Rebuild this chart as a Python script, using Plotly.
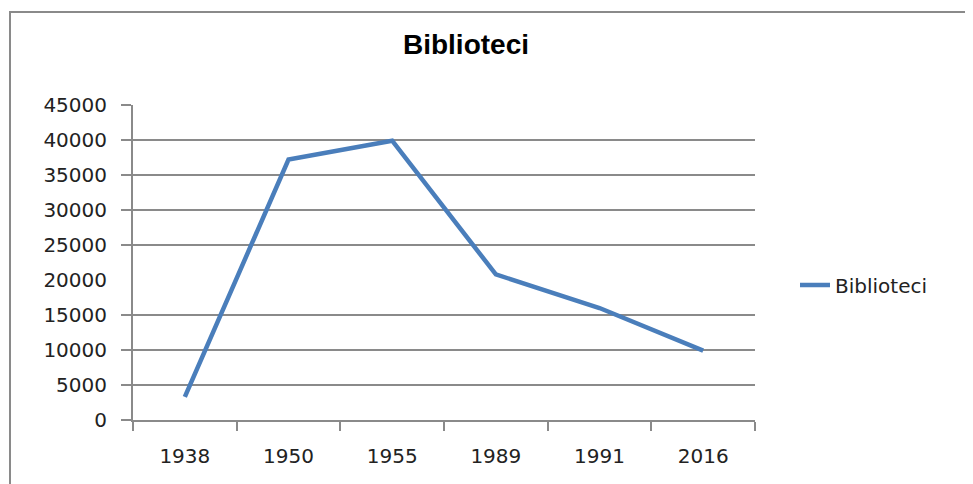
import plotly.graph_objects as go

# values
years = ["1938", "1950", "1955", "1989", "1991", "2016"]
biblioteci = [3300, 37200, 39900, 20800, 16000, 9900]

y_ticks = [0, 5000, 10000, 15000, 20000, 25000, 30000, 35000, 40000, 45000]
# the reference has no gridline / tick mark at 20000
grid_ticks = [0, 5000, 10000, 15000, 25000, 30000, 35000, 40000, 45000]

tick_font = dict(family="DejaVu Sans", size=20, color="#222222")
grey = "#8a8a8a"

# page body adds an 8px offset, margins compensate for it
OFF = 8

fig = go.Figure()

fig.add_trace(go.Scatter(
    x=years,
    y=biblioteci,
    mode="lines",
    name="Biblioteci",
    line=dict(color="#4a7ebb", width=4.5),
))

# empty trace so the label axis is drawn
fig.add_trace(go.Scatter(x=[], y=[], yaxis="y2", showlegend=False, hoverinfo="skip"))

fig.update_layout(
    width=973,
    height=484,
    margin=dict(l=133 - OFF, r=218 + OFF, t=105 - OFF, b=64 + OFF),
    paper_bgcolor="white",
    plot_bgcolor="white",
    title=dict(
        text="<b>Biblioteci</b>",
        font=dict(family="Liberation Sans", size=28, color="black"),
        x=(466 - OFF) / 973, xanchor="center",
        y=1 - (44 - OFF) / 484, yanchor="middle",
        xref="container", yref="container",
    ),
    xaxis=dict(
        type="category",
        range=[-0.5, 5.5],
        showgrid=False,
        showline=True, linecolor=grey, linewidth=1.5,
        ticks="outside", tickson="boundaries", ticklen=9, tickcolor=grey, tickwidth=1.5,
        tickfont=tick_font,
        ticklabelstandoff=17,
        zeroline=False,
    ),
    yaxis=dict(
        range=[0, 45000],
        tickvals=grid_ticks,
        showticklabels=False,
        showgrid=True, gridcolor=grey, gridwidth=1.5,
        showline=True, linecolor=grey, linewidth=1.5,
        ticks="outside", ticklen=10, tickcolor=grey, tickwidth=1.5,
        zeroline=False,
    ),
    yaxis2=dict(
        overlaying="y",
        side="left",
        range=[0, 45000],
        tickvals=y_ticks,
        ticktext=[str(v) for v in y_ticks],
        showgrid=False,
        showline=False,
        ticks="",
        tickfont=tick_font,
        ticklabelstandoff=25,
        zeroline=False,
    ),
    legend=dict(
        x=(795 - 133) / 622, xanchor="left",
        y=(420 - 285) / 315, yanchor="middle",
        font=tick_font,
        bgcolor="rgba(0,0,0,0)",
    ),
    showlegend=True,
    shapes=[
        # outer chart frame, partly cut off like in the reference
        dict(type="rect", xref="paper", yref="paper",
             x0=(10 - 133) / 622, x1=(990 - 133) / 622,
             y0=(420 - 500) / 315, y1=(420 - 12) / 315,
             line=dict(color=grey, width=2), layer="below"),
    ],
)

fig.write_html("out.html")
